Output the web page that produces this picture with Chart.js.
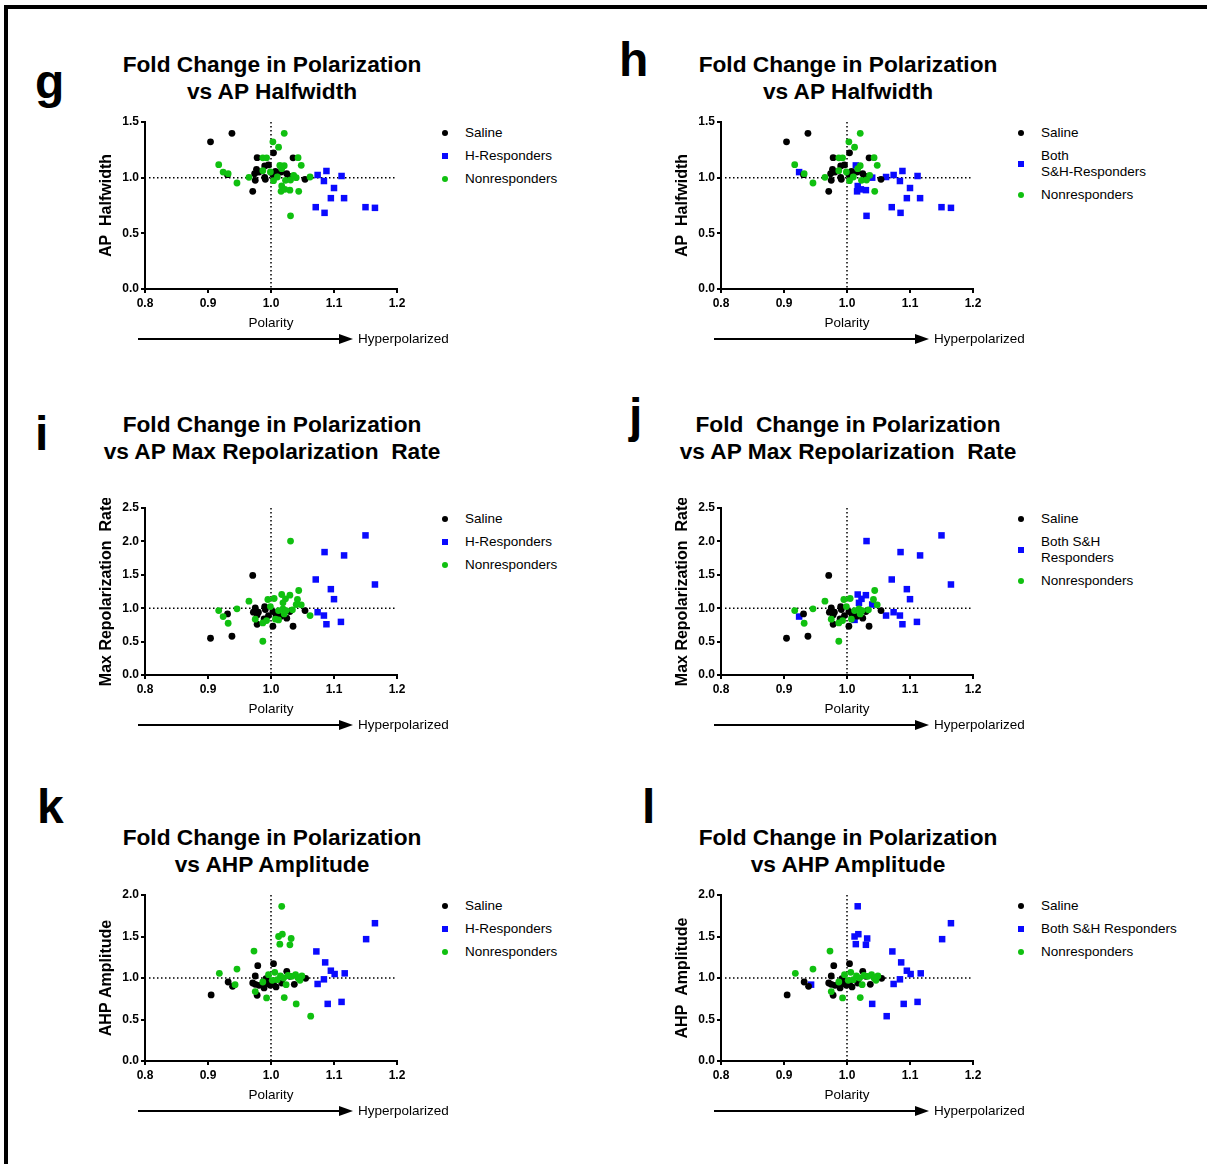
<!DOCTYPE html>
<html>
<head>
<meta charset="utf-8">
<script src="https://cdn.jsdelivr.net/npm/chart.js@4.4.1/dist/chart.umd.min.js"></script>
<style>
  body { margin: 0; background: #fff; font-family: Arial, "Liberation Sans", sans-serif; color: #000; }
  #page { position: relative; width: 1207px; height: 1164px; overflow: hidden; }
  #frame { position: absolute; left: 4px; top: 5px; width: 1210px; height: 1170px;
           border-top: 4px solid #000; border-left: 4px solid #000; }
  canvas { position: absolute; }
  .letter { position: absolute; font-size: 48px; font-weight: bold; line-height: 48px; }
  .title { position: absolute; width: 400px; text-align: center; font-size: 22.7px; font-weight: bold;
           line-height: 27px; white-space: pre; }
  .lg { position: absolute; font-size: 13.5px; line-height: 16px; white-space: pre; }
  .dot { position: absolute; width: 6px; height: 6px; border-radius: 50%; }
  .sq { position: absolute; width: 6px; height: 6px; }
  .hyper { position: absolute; font-size: 13.5px; line-height: 16px; }
  svg { position: absolute; }
</style>
</head>
<body>
<div id="page"><div id="frame"></div></div>
<script>
// tick values
const xTicks = [0.8, 0.9, 1.0, 1.1, 1.2];
const hwTicks = [0.0, 0.5, 1.0, 1.5];
const mrrTicks = [0.0, 0.5, 1.0, 1.5, 2.0, 2.5];
const ahpTicks = [0.0, 0.5, 1.0, 1.5, 2.0];

// AP halfwidth (panels g, h) : [polarity, fold change]
const hwSaline = [[0.904,1.322],[0.938,1.398],[0.931,1.027],[0.978,1.18],[1.004,1.223],[1.035,1.178],[0.971,0.877],
  [0.975,0.976],[0.977,1.075],[0.974,1.036],[0.981,1.051],[0.990,1.105],[0.996,1.114],[0.990,1.003],[0.991,0.985],
  [1.003,1.027],[1.007,1.057],[1.016,1.051],[1.025,1.036],[1.030,1.012],[1.054,0.985]];
const hwHResp = [[1.074,1.024],[1.088,1.060],[1.084,0.970],[1.112,1.015],[1.100,0.907],[1.095,0.816],[1.116,0.816],
  [1.071,0.735],[1.085,0.684],[1.150,0.735],[1.165,0.729]];
const hwSResp = [[0.924,1.050],[1.014,1.110],[1.040,1.000],[1.062,1.006],[1.031,0.657],[1.017,0.925],[1.016,0.877],
  [1.022,0.895],[1.030,0.888]];
const hwNonResp = [[1.021,1.398],[1.003,1.322],[1.012,1.274],[0.917,1.117],[0.932,1.036],[0.946,0.952],[0.965,1.003],
  [0.987,1.178],[0.993,1.178],[1.043,1.180],[1.048,1.111],[1.021,1.108],[0.987,1.063],[0.999,1.051],[1.004,0.973],
  [1.010,1.006],[1.017,1.081],[1.023,0.976],[1.044,0.877],[1.031,0.979],[1.036,1.021]];

// AP max repolarization rate (panels i, j)
const mrrSaline = [[0.904,0.55],[0.938,0.58],[0.931,0.915],[0.971,1.49],[0.975,1.005],[0.972,0.94],[0.978,0.90],
  [0.980,0.94],[0.978,0.76],[0.990,1.025],[0.991,0.98],[0.989,0.84],[0.996,0.89],[1.003,0.95],[1.003,0.73],
  [1.008,0.885],[1.016,0.88],[1.025,0.85],[1.030,0.95],[1.035,0.73],[1.054,0.965]];
const mrrHResp = [[1.150,2.09],[1.085,1.84],[1.116,1.79],[1.071,1.43],[1.165,1.355],[1.095,1.285],[1.100,1.135],
  [1.074,0.94],[1.084,0.89],[1.088,0.76],[1.111,0.795]];
const mrrSResp = [[1.031,2.005],[0.924,0.875],[1.017,1.205],[1.030,1.195],[1.023,1.14],[1.019,1.08],[1.040,1.055],
  [1.012,0.825],[1.062,0.89]];
const mrrNonResp = [[0.917,0.965],[0.932,0.775],[0.946,0.99],[0.965,1.105],[0.995,1.13],[1.005,1.145],[1.044,1.265],
  [1.042,1.13],[1.048,1.05],[1.034,0.975],[0.975,0.835],[0.987,0.78],[0.993,0.815],[0.999,1.025],[1.012,0.965],
  [1.019,0.99],[1.007,0.835],[0.987,0.505],[1.021,0.915],[1.024,0.965]];

// AHP amplitude (panels k, l)
const ahpSaline = [[0.905,0.796],[0.932,0.952],[0.939,0.90],[0.979,1.148],[1.004,1.172],[0.975,1.024],[0.971,0.94],
  [0.975,0.924],[0.978,0.792],[0.981,0.912],[0.989,0.88],[0.992,0.992],[0.995,0.932],[0.999,0.912],[1.004,0.944],
  [1.008,0.892],[1.017,0.94],[1.025,1.08],[1.030,1.02],[1.037,0.924],[1.055,0.996]];
const ahpHResp = [[1.165,1.66],[1.151,1.468],[1.072,1.32],[1.086,1.188],[1.095,1.088],[1.101,1.048],[1.117,1.056],
  [1.084,0.984],[1.074,0.928],[1.090,0.688],[1.112,0.712]];
const ahpSResp = [[1.017,1.864],[1.012,1.50],[1.018,1.528],[1.032,1.476],[1.014,1.408],[1.030,1.40],[0.943,0.92],
  [1.040,0.688],[1.063,0.54]];
const ahpNonResp = [[0.973,1.324],[0.946,1.108],[0.918,1.056],[1.006,1.068],[0.996,1.04],[0.987,0.952],[0.975,0.836],
  [0.993,0.76],[1.021,0.764],[1.024,0.92],[1.046,0.972],[1.049,1.024],[1.039,1.04],[1.015,1.024],[1.020,1.0],
  [1.010,0.98],[1.002,0.972],[1.033,1.02],[1.027,1.03],[1.043,1.0]];

const BLACK = '#000000';
const BLUE = '#0a0aff';
const GREEN = '#10c010';
const FONT = 'Arial, "Liberation Sans", sans-serif';

const page = document.getElementById('page');
const pts = arr => arr.map(p => ({ x: p[0], y: p[1] }));

// dotted lines at x = 1 and y = 1
const refLines = {
  id: 'refLines',
  beforeDatasetsDraw(chart) {
    const { ctx, chartArea: a, scales: { x, y } } = chart;
    const px = x.getPixelForValue(1), py = y.getPixelForValue(1);
    ctx.save();
    ctx.strokeStyle = '#000';
    ctx.lineWidth = 1.5;
    ctx.setLineDash([1.5, 2.5]);
    ctx.beginPath();
    ctx.moveTo(px, a.top); ctx.lineTo(px, a.bottom);
    ctx.moveTo(a.left + 4, py); ctx.lineTo(a.right, py);
    ctx.stroke();
    ctx.restore();
  }
};

function addDiv(cls, left, top, html) {
  const d = document.createElement('div');
  d.className = cls;
  d.style.left = left + 'px';
  d.style.top = top + 'px';
  if (html !== undefined) d.textContent = html;
  page.appendChild(d);
  return d;
}

function makePanel(p) {
  const plotLeft = p.col === 0 ? 145 : 721;
  const cLeft = plotLeft - 55;
  const cTop = p.plotTop - 10;
  const w = 320, h = (p.plotBottom - p.plotTop) + 10 + 48;
  const cv = document.createElement('canvas');
  cv.width = w; cv.height = h;
  cv.style.left = cLeft + 'px'; cv.style.top = cTop + 'px';
  cv.style.width = w + 'px'; cv.style.height = h + 'px';
  page.appendChild(cv);

  const tickFont = { family: FONT, size: 12, weight: 'bold' };
  new Chart(cv, {
    type: 'scatter',
    data: {
      datasets: [
        { label: 'Nonresponders', data: pts(p.green), pointStyle: 'circle', pointRadius: 3.4,
          backgroundColor: GREEN, borderWidth: 0 },
        { label: 'Saline', data: pts(p.black), pointStyle: 'circle', pointRadius: 3.4,
          backgroundColor: BLACK, borderWidth: 0 },
        { label: p.blueLabel, data: pts(p.blue), pointStyle: 'rect', pointRadius: 4.6,
          backgroundColor: BLUE, borderWidth: 0 }
      ]
    },
    options: {
      responsive: false,
      animation: false,
      events: [],
      layout: { padding: { top: 10, right: 13, left: 0, bottom: 0 } },
      plugins: { legend: { display: false }, tooltip: { enabled: false } },
      scales: {
        x: {
          type: 'linear', min: 0.8, max: 1.2,
          afterBuildTicks: s => { s.ticks = xTicks.map(v => ({ value: v })); },
          ticks: { font: tickFont, color: '#000', padding: 3, callback: v => v.toFixed(1) },
          grid: { display: true, drawOnChartArea: false, drawTicks: true, tickLength: 4, color: '#000', lineWidth: 2 },
          border: { display: true, color: '#000', width: 2 },
          title: { display: true, text: 'Polarity', color: '#000', font: { family: FONT, size: 13.5 },
                   padding: { top: 0, bottom: 6 } },
          afterFit: s => { s.height = 48; }
        },
        y: {
          type: 'linear', min: 0, max: p.yMax,
          afterBuildTicks: s => { s.ticks = p.yTicks.map(v => ({ value: v })); },
          ticks: { font: tickFont, color: '#000', padding: 2, callback: v => v.toFixed(1) },
          grid: { display: true, drawOnChartArea: false, drawTicks: true, tickLength: 4, color: '#000', lineWidth: 2 },
          border: { display: true, color: '#000', width: 2 },
          title: { display: true, text: p.yTitle, color: '#000', font: { family: FONT, size: 16, weight: 'bold' },
                   padding: { top: 7, bottom: 0 } },
          afterFit: s => { s.width = 55; }
        }
      }
    },
    plugins: [refLines]
  });

  // panel letter
  addDiv('letter', p.letterPos[0], p.letterPos[1], p.letter);
  // title
  const cx = p.col === 0 ? 272 : 848;
  addDiv('title', cx - 200, p.titleTop, p.title);
  // legend
  const mx = p.col === 0 ? 445 : 1021;
  p.legend.forEach(item => {
    const m = addDiv(item.kind === 'sq' ? 'sq' : 'dot', mx - 3, item.my - 3);
    m.style.background = item.color;
    addDiv('lg', mx + 20, item.ty - 8, item.text);
  });
  // arrow
  const ay = p.plotBottom + 50;
  const ax0 = plotLeft - 7;
  const svg = document.createElementNS('http://www.w3.org/2000/svg', 'svg');
  svg.setAttribute('width', 220); svg.setAttribute('height', 14);
  svg.style.left = ax0 + 'px'; svg.style.top = (ay - 7) + 'px';
  svg.innerHTML = '<line x1="0" y1="7" x2="204" y2="7" stroke="#000" stroke-width="2.2"/>' +
                  '<polygon points="201,2 215,7 201,12" fill="#000"/>';
  page.appendChild(svg);
  addDiv('hyper', ax0 + 220, ay - 8, 'Hyperpolarized');
}

const legend3 = (top, blueText) => [
  { kind: 'dot', color: BLACK, my: top, ty: top, text: 'Saline' },
  { kind: 'sq', color: BLUE, my: top + 23, ty: top + 23, text: blueText },
  { kind: 'dot', color: GREEN, my: top + 46, ty: top + 46, text: 'Nonresponders' }
];
// two-line middle entry: marker sits between its two text lines
const legendTwoLine = (top, blueText) => [
  { kind: 'dot', color: BLACK, my: top, ty: top, text: 'Saline' },
  { kind: 'sq', color: BLUE, my: top + 31, ty: top + 23, text: blueText },
  { kind: 'dot', color: GREEN, my: top + 62, ty: top + 62, text: 'Nonresponders' }
];

const panels = [
  { letter: 'g', col: 0, letterPos: [35, 58], titleTop: 51, title: 'Fold Change in Polarization\nvs AP Halfwidth',
    plotTop: 122, plotBottom: 289, yMax: 1.5, yTicks: hwTicks, yTitle: 'AP  Halfwidth',
    black: hwSaline, blue: hwHResp, green: hwNonResp.concat(hwSResp), blueLabel: 'H-Responders',
    legend: legend3(133, 'H-Responders') },
  { letter: 'h', col: 1, letterPos: [619, 36], titleTop: 51, title: 'Fold Change in Polarization\nvs AP Halfwidth',
    plotTop: 122, plotBottom: 289, yMax: 1.5, yTicks: hwTicks, yTitle: 'AP  Halfwidth',
    black: hwSaline, blue: hwHResp.concat(hwSResp), green: hwNonResp, blueLabel: 'Both S&H-Responders',
    legend: legendTwoLine(133, 'Both\nS&H-Responders') },
  { letter: 'i', col: 0, letterPos: [35, 410], titleTop: 411, title: 'Fold Change in Polarization\nvs AP Max Repolarization  Rate',
    plotTop: 508, plotBottom: 675, yMax: 2.5, yTicks: mrrTicks, yTitle: 'Max Repolarization  Rate',
    black: mrrSaline, blue: mrrHResp, green: mrrNonResp.concat(mrrSResp), blueLabel: 'H-Responders',
    legend: legend3(519, 'H-Responders') },
  { letter: 'j', col: 1, letterPos: [629, 392], titleTop: 411, title: 'Fold  Change in Polarization\nvs AP Max Repolarization  Rate',
    plotTop: 508, plotBottom: 675, yMax: 2.5, yTicks: mrrTicks, yTitle: 'Max Repolarization  Rate',
    black: mrrSaline, blue: mrrHResp.concat(mrrSResp), green: mrrNonResp, blueLabel: 'Both S&H Responders',
    legend: legendTwoLine(519, 'Both S&H\nResponders') },
  { letter: 'k', col: 0, letterPos: [37, 783], titleTop: 824, title: 'Fold Change in Polarization\nvs AHP Amplitude',
    plotTop: 895, plotBottom: 1061, yMax: 2.0, yTicks: ahpTicks, yTitle: 'AHP Amplitude',
    black: ahpSaline, blue: ahpHResp, green: ahpNonResp.concat(ahpSResp), blueLabel: 'H-Responders',
    legend: legend3(906, 'H-Responders') },
  { letter: 'l', col: 1, letterPos: [642, 783], titleTop: 824, title: 'Fold Change in Polarization\nvs AHP Amplitude',
    plotTop: 895, plotBottom: 1061, yMax: 2.0, yTicks: ahpTicks, yTitle: 'AHP  Amplitude',
    black: ahpSaline, blue: ahpHResp.concat(ahpSResp), green: ahpNonResp, blueLabel: 'Both S&H Responders',
    legend: legend3(906, 'Both S&H Responders') }
];

panels.forEach(makePanel);
</script>
</body>
</html>
